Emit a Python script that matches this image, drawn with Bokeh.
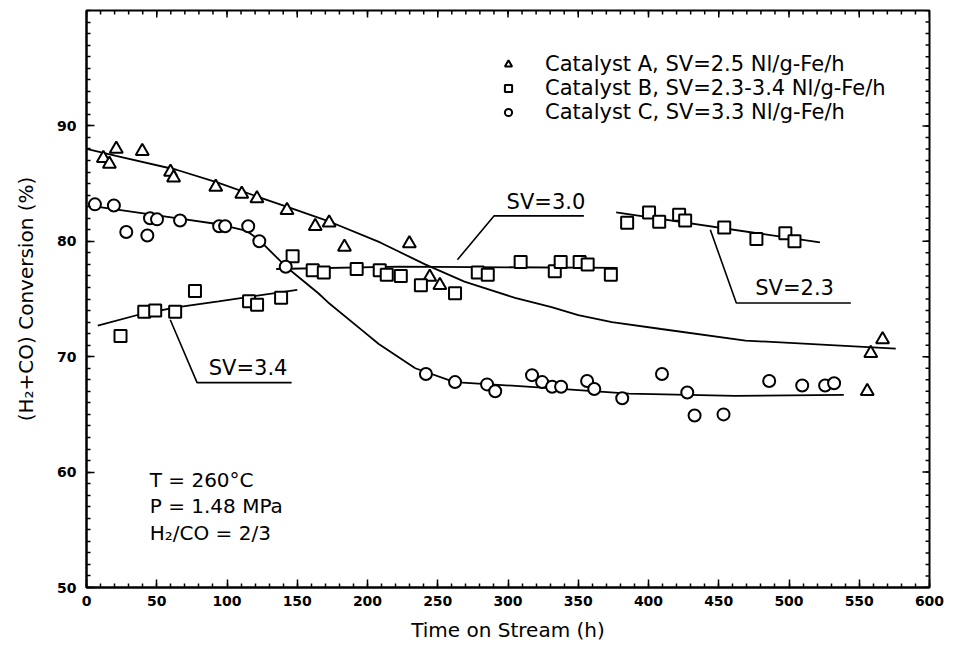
from bokeh.plotting import figure
from bokeh.models import Range1d, FixedTicker, Legend, LegendItem, Label
from bokeh.embed import file_html
from bokeh.resources import INLINE

# ---------------- data ----------------
a_time = [12.0, 16.3, 21.2, 39.7, 59.8, 62.0, 92.0, 110.5, 121.3, 142.7, 162.8, 172.7,
          183.6, 229.8, 244.3, 251.5, 555.7, 558.2, 566.6]
a_conv = [87.2, 86.7, 88.0, 87.8, 86.0, 85.5, 84.7, 84.1, 83.7, 82.7, 81.3, 81.6,
          79.5, 79.8, 76.9, 76.2, 67.0, 70.3, 71.5]

b_time = [24.2, 41.1, 48.9, 63.1, 77.2, 115.7, 121.4, 138.5, 146.7,
          161.0, 168.9, 192.3, 208.7, 213.7, 223.7, 238.0, 262.3, 278.5, 285.6,
          309.0, 333.3, 337.5, 351.0, 356.7, 373.2,
          384.8, 400.4, 407.6, 421.8, 426.1, 453.9, 476.8, 497.4, 503.9]
b_conv = [71.8, 73.9, 74.0, 73.9, 75.7, 74.8, 74.5, 75.1, 78.7,
          77.5, 77.3, 77.6, 77.5, 77.1, 77.0, 76.2, 75.5, 77.3, 77.1,
          78.2, 77.4, 78.2, 78.2, 78.0, 77.1,
          81.6, 82.5, 81.7, 82.3, 81.8, 81.2, 80.2, 80.7, 80.0]

c_time = [6.0, 19.5, 28.3, 43.3, 45.2, 50.2, 66.6, 94.4, 98.7, 115.1, 123.0, 141.8,
          241.6, 262.3, 285.1, 290.9, 317.1, 324.3, 331.4, 337.8, 356.3, 361.4, 381.3,
          409.6, 427.6, 432.8, 453.4, 485.9, 509.4, 525.7, 532.1]
c_conv = [83.2, 83.1, 80.8, 80.5, 82.0, 81.9, 81.8, 81.3, 81.3, 81.3, 80.0, 77.8,
          68.5, 67.8, 67.6, 67.0, 68.4, 67.8, 67.4, 67.4, 67.9, 67.2, 66.4,
          68.5, 66.9, 64.9, 65.0, 67.9, 67.5, 67.5, 67.7]

# fitted curves
fit_a_time = [0, 21, 64, 93, 121, 145, 171, 209, 241, 269, 305, 331, 350, 374, 409, 469, 576]
fit_a_conv = [88.0, 87.4, 86.2, 85.1, 83.9, 82.9, 81.8, 79.9, 78.0, 76.5, 75.1, 74.3,
              73.6, 73.0, 72.4, 71.4, 70.7]

fit_c_time = [2, 64, 93, 114, 123, 142, 165, 172, 196, 208, 234, 262, 327, 386, 462, 539]
fit_c_conv = [83.1, 82.0, 81.5, 80.9, 80.1, 77.8, 75.5, 74.7, 72.3, 71.1, 69.0, 67.8,
              67.3, 66.8, 66.6, 66.7]

fit_b1_time = [8, 39, 65, 94, 150]
fit_b1_conv = [72.7, 73.7, 74.3, 74.8, 75.8]
fit_b2_time = [135, 222, 378]
fit_b2_conv = [77.6, 77.8, 77.7]
fit_b3_time = [377, 522]
fit_b3_conv = [82.5, 79.9]

x_ticks = list(range(0, 601, 50))
x_minor = list(range(0, 601, 10))
y_ticks = [50, 60, 70, 80, 90]
y_minor = list(range(50, 101, 1))

legend_labels = ["Catalyst A, SV=2.5 Nl/g-Fe/h",
                 "Catalyst B, SV=2.3-3.4 Nl/g-Fe/h",
                 "Catalyst C, SV=3.3 Nl/g-Fe/h"]
conditions = ["T = 260°C", "P = 1.48 MPa", "H₂/CO = 2/3"]

FONT = "DejaVu Sans"
X0, X1, Y0, Y1 = 0, 600, 50, 100

# ---------------- figure ----------------
p = figure(frame_width=843, frame_height=577,
           min_border_left=86, min_border_right=19, min_border_top=10, min_border_bottom=52,
           x_range=Range1d(X0, X1), y_range=Range1d(Y0, Y1),
           output_backend="svg", toolbar_location=None)
p.background_fill_color = "white"
p.border_fill_color = "white"
p.grid.visible = False
p.outline_line_color = "black"
p.outline_line_width = 2

xt = FixedTicker(ticks=x_ticks, minor_ticks=x_minor)
yt = FixedTicker(ticks=y_ticks, minor_ticks=y_minor)

for ax in p.xaxis:
    ax.ticker = xt
    ax.axis_label = "Time on Stream (h)"
for ax in p.yaxis:
    ax.ticker = yt
    ax.axis_label = "(H₂+CO) Conversion (%)"

for ax in list(p.xaxis) + list(p.yaxis):
    ax.axis_line_width = 2
    ax.major_tick_in = 8
    ax.major_tick_out = 0
    ax.minor_tick_in = 4
    ax.minor_tick_out = 0
    ax.major_tick_line_width = 1.5
    ax.minor_tick_line_width = 1.5
    ax.major_label_text_font = FONT
    ax.major_label_text_font_style = "bold"
    ax.major_label_text_font_size = "14px"
    ax.major_label_text_color = "black"
    ax.axis_label_text_font = FONT
    ax.axis_label_text_font_style = "normal"
    ax.axis_label_text_font_size = "20px"
    ax.axis_label_text_color = "black"
p.xaxis.major_label_standoff = 8
p.xaxis.axis_label_standoff = 9
p.yaxis.major_label_standoff = 10
p.yaxis.axis_label_standoff = 16

# inward ticks on the top and right edges of the box, built from the tick lists
tick_len_x_major, tick_len_x_minor = 0.6, 0.35     # in y units (top edge)
tick_len_y_major, tick_len_y_minor = 5.0, 2.8      # in x units (right edge)
p.segment(x0=x_minor, y0=[Y1] * len(x_minor), x1=x_minor,
          y1=[Y1 - tick_len_x_minor] * len(x_minor), line_color="black", line_width=1.5)
p.segment(x0=x_ticks, y0=[Y1] * len(x_ticks), x1=x_ticks,
          y1=[Y1 - tick_len_x_major] * len(x_ticks), line_color="black", line_width=1.5)
p.segment(x0=[X1] * len(y_minor), y0=y_minor, x1=[X1 - tick_len_y_minor] * len(y_minor),
          y1=y_minor, line_color="black", line_width=1.5)
p.segment(x0=[X1] * len(y_ticks), y0=y_ticks, x1=[X1 - tick_len_y_major] * len(y_ticks),
          y1=y_ticks, line_color="black", line_width=1.5)

# fitted curves
for xs, ys in [(fit_a_time, fit_a_conv), (fit_c_time, fit_c_conv),
               (fit_b1_time, fit_b1_conv), (fit_b2_time, fit_b2_conv),
               (fit_b3_time, fit_b3_conv)]:
    p.line(xs, ys, line_color="black", line_width=1.8)

# data markers
ra = p.scatter(a_time, a_conv, marker="triangle", size=13, fill_color="white",
               line_color="black", line_width=2)
rb = p.scatter(b_time, b_conv, marker="square", size=12, fill_color="white",
               line_color="black", line_width=2)
rc = p.scatter(c_time, c_conv, marker="circle", size=12, fill_color="white",
               line_color="black", line_width=2)

legend = Legend(items=[LegendItem(label=legend_labels[0], renderers=[ra]),
                       LegendItem(label=legend_labels[1], renderers=[rb]),
                       LegendItem(label=legend_labels[2], renderers=[rc])],
                location=(413, 463), border_line_color=None, background_fill_alpha=0,
                padding=0, margin=0, spacing=0, glyph_width=18, glyph_height=18,
                label_standoff=28, label_text_font=FONT, label_text_font_size="21px",
                label_text_color="black", label_height=22)
p.add_layout(legend)

# SV annotations: leader line + underline + text
annotations = [
    ("SV=3.0", [264, 290, 354], [78.4, 82.2, 82.2], 299, 82.4),
    ("SV=2.3", [444, 462.5, 544], [81.0, 74.65, 74.65], 476, 74.9),
    ("SV=3.4", [59.6, 78.7, 146], [73.2, 67.75, 67.75], 87, 68.0),
]
for txt, lx, ly, tx, ty in annotations:
    p.line(lx, ly, line_color="black", line_width=1.6)
    p.add_layout(Label(x=tx, y=ty, text=txt, text_font=FONT, text_font_size="21px",
                       text_baseline="bottom", text_align="left", text_color="black"))

for i, line in enumerate(conditions):
    p.add_layout(Label(x=45, y=58.3 - 2.3 * i, text=line, text_font=FONT,
                       text_font_size="20px", text_baseline="bottom",
                       text_align="left", text_color="black"))

open("out.html", "w").write(file_html(p, INLINE))
